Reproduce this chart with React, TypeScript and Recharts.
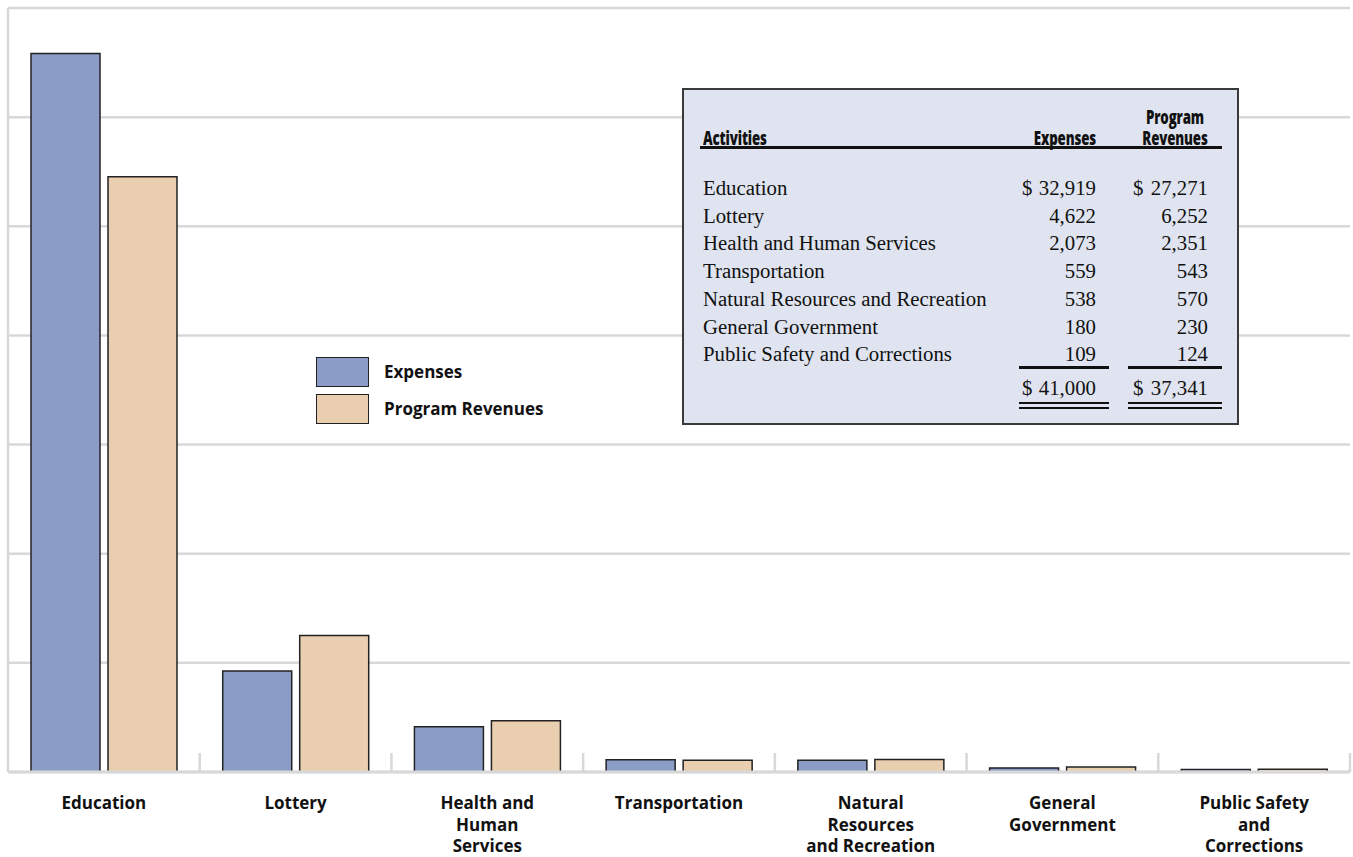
import React from "react";
import {
  BarChart,
  Bar,
  XAxis,
  YAxis,
  CartesianGrid,
} from "recharts";

const categories = [
  "Education",
  "Lottery",
  "Health and\nHuman\nServices",
  "Transportation",
  "Natural\nResources\nand Recreation",
  "General\nGovernment",
  "Public Safety\nand\nCorrections",
];
const activityNames = [
  "Education",
  "Lottery",
  "Health and Human Services",
  "Transportation",
  "Natural Resources and Recreation",
  "General Government",
  "Public Safety and Corrections",
];
const expenses = [32919, 4622, 2073, 559, 538, 180, 109];
const programRevenues = [27271, 6252, 2351, 543, 570, 230, 124];
const yTicks = [0, 5000, 10000, 15000, 20000, 25000, 30000, 35000];

const series = [
  { key: "expenses", name: "Expenses", color: "#8b9dc7" },
  { key: "revenues", name: "Program Revenues", color: "#eaceb0" },
];

const data = categories.map((c, i) => ({
  category: c,
  expenses: expenses[i],
  revenues: programRevenues[i],
}));

const W = 1353;
const H = 857;
const MARGIN = { top: 8, right: 3, left: 7, bottom: 0 };
const BAND = (W - 8 - MARGIN.right) / categories.length;
const GRID = "#d8d8d8";
const SANS = "'Open Sans', 'Noto Sans', sans-serif";
const SERIF = "'Liberation Serif', 'DejaVu Serif', serif";

function money(n: number) {
  return n.toLocaleString("en-US");
}

function EmptyTick() {
  return null;
}

function CategoryTick(props: any) {
  const { x, y, payload } = props;
  const lines = String(payload.value).split("\n");
  return (
    <g>
      <line
        x1={x + BAND / 2}
        x2={x + BAND / 2}
        y1={y - 19}
        y2={y}
        stroke={GRID}
        strokeWidth={2.5}
      />
      <text
        x={x}
        y={y}
        textAnchor="middle"
        fontFamily={SANS}
        fontWeight={700}
        fontSize={17}
        fill="#111"
      >
        {lines.map((l, i) => (
          <tspan key={i} x={x} dy={i === 0 ? 37 : 21.5}>
            {l}
          </tspan>
        ))}
      </text>
    </g>
  );
}

function Legend() {
  return (
    <div style={{ position: "absolute", left: 316, top: 356 }}>
      {series.map((s, i) => (
        <div
          key={s.key}
          style={{ display: "flex", alignItems: "center", height: 31, marginBottom: i === 0 ? 6 : 0 }}
        >
          <div
            style={{
              width: 53,
              height: 30,
              boxSizing: "border-box",
              background: s.color,
              border: "1.5px solid #222",
            }}
          />
          <span
            style={{
              marginLeft: 15,
              fontFamily: SANS,
              fontWeight: 700,
              fontSize: 17,
              color: "#111",
            }}
          >
            {s.name}
          </span>
        </div>
      ))}
    </div>
  );
}

function Rule({ left, width, top, h = 2.5 }: { left: number; width: number; top: number; h?: number }) {
  return <div style={{ position: "absolute", left, width, top, height: h, background: "#111" }} />;
}

function Cell({
  text,
  left,
  right,
  center,
  cy,
  header,
}: {
  text: string;
  left?: number;
  right?: number;
  center?: number;
  cy: number;
  header?: boolean;
}) {
  const lh = header ? 21 : 24;
  const nLines = text.split("\n").length;
  const style: React.CSSProperties = {
    position: "absolute",
    top: cy - lh / 2,
    lineHeight: `${lh}px`,
    height: lh * nLines,
    fontFamily: header ? SANS : SERIF,
    fontWeight: header ? 800 : 400,
    fontSize: header ? 19 : 20.8,
    color: "#111",
    whiteSpace: "pre",
  };
  let origin = "left center";
  if (left !== undefined) style.left = left;
  if (right !== undefined) {
    style.left = right - 300;
    style.width = 300;
    style.textAlign = "right";
    origin = "right center";
  }
  if (center !== undefined) {
    style.left = center - 150;
    style.width = 300;
    style.textAlign = "center";
    origin = "center center";
  }
  if (header) {
    style.transform = "scaleX(0.7)";
    style.transformOrigin = origin;
    style.letterSpacing = "-0.2px";
  }
  return <div style={style}>{text}</div>;
}

function SummaryTable() {
  const ROW0 = 100;
  const STEP = 27.7;
  const totalExp = expenses.reduce((a, b) => a + b, 0);
  const totalRev = programRevenues.reduce((a, b) => a + b, 0);
  return (
    <div
      style={{
        position: "absolute",
        left: 682,
        top: 88,
        width: 557,
        height: 337,
        boxSizing: "border-box",
        background: "#dfe4f0",
        border: "2px solid #3a3a3a",
      }}
    >
      <div style={{ position: "absolute", left: -2, top: -2 }}>
        <Cell text="Activities" left={21} cy={50} header />
        <Cell text="Expenses" right={414} cy={50} header />
        <Cell text={"Program\nRevenues"} center={493} cy={29} header />
        <Rule left={18} width={522} top={58} />

        {activityNames.map((name, i) => {
          const cy = ROW0 + i * STEP;
          return (
            <React.Fragment key={name}>
              <Cell text={name} left={21} cy={cy} />
              {i === 0 && <Cell text="$" left={340} cy={cy} />}
              {i === 0 && <Cell text="$" left={451} cy={cy} />}
              <Cell text={money(expenses[i])} right={414} cy={cy} />
              <Cell text={money(programRevenues[i])} right={526} cy={cy} />
            </React.Fragment>
          );
        })}

        <Rule left={337} width={90} top={278} />
        <Rule left={446} width={94} top={278} />
        <Cell text="$" left={340} cy={300} />
        <Cell text="$" left={451} cy={300} />
        <Cell text={money(totalExp)} right={414} cy={300} />
        <Cell text={money(totalRev)} right={526} cy={300} />
        <Rule left={337} width={90} top={314} h={2} />
        <Rule left={337} width={90} top={319} h={2} />
        <Rule left={446} width={94} top={314} h={2} />
        <Rule left={446} width={94} top={319} h={2} />
      </div>
    </div>
  );
}

export default function App() {
  return (
    <div style={{ position: "absolute", left: 0, top: 0, width: W, height: H, background: "#fff" }}>
      <BarChart
        width={W}
        height={H}
        data={data}
        margin={MARGIN}
        barCategoryGap={23}
        barGap={8}
      >
        <CartesianGrid vertical={false} stroke={GRID} strokeWidth={2.5} />
        <YAxis
          width={1}
          domain={[0, 35000]}
          ticks={yTicks}
          tick={<EmptyTick />}
          tickLine={false}
          axisLine={{ stroke: GRID, strokeWidth: 2.5 }}
        />
        <XAxis
          dataKey="category"
          interval={0}
          tickSize={0}
          tickMargin={0}
          tickLine={false}
          height={85}
          axisLine={{ stroke: GRID, strokeWidth: 3 }}
          tick={<CategoryTick />}
        />
        {series.map((s) => (
          <Bar
            key={s.key}
            dataKey={s.key}
            name={s.name}
            fill={s.color}
            stroke="#222"
            strokeWidth={1.5}
            isAnimationActive={false}
          />
        ))}
      </BarChart>
      <Legend />
      <SummaryTable />
    </div>
  );
}
